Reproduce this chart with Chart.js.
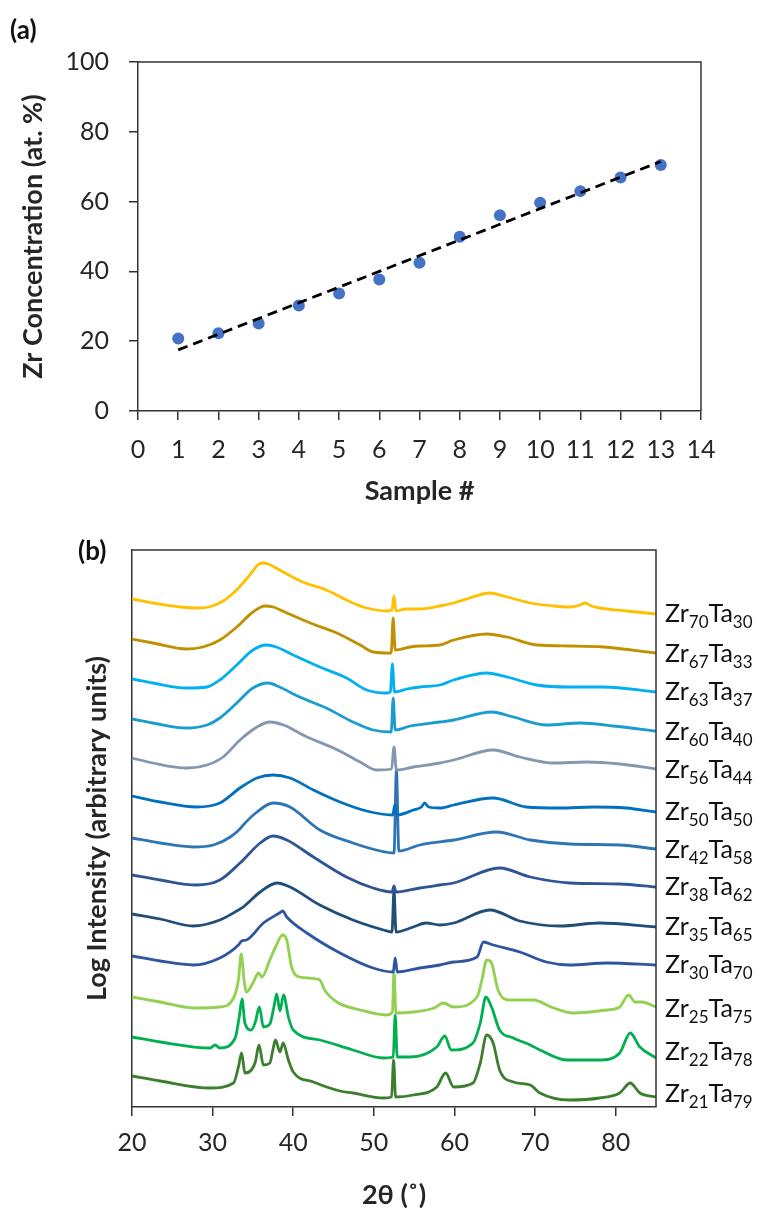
<!DOCTYPE html>
<html>
<head>
<meta charset="utf-8">
<script src="https://cdn.jsdelivr.net/npm/chart.js@4.4.1/dist/chart.umd.min.js"></script>
<style>
  html, body { margin: 0; padding: 0; background: #fff; }
  #wrap { position: relative; width: 764px; height: 1211px; overflow: hidden; background: #fff; }
  .panel { position: absolute; left: 0; width: 764px; }
  #pa { top: 0; height: 525px; }
  #pb { top: 525px; height: 686px; }
  .tag { position: absolute; font: bold 26px Lato, sans-serif; line-height: 1; color: #111; }
</style>
</head>
<body>
<div id="wrap">
  <div class="panel" id="pa"><canvas id="ca"></canvas></div>
  <div class="panel" id="pb"><canvas id="cb"></canvas></div>
  <div class="tag" style="left:10px;top:16px">(a)</div>
  <div class="tag" style="left:78px;top:537px">(b)</div>
</div>
<script>
// ---------- Panel (a) data ----------
const sampleNo = [1, 2, 3, 4, 5, 6, 7, 8, 9, 10, 11, 12, 13];
const zrConc   = [20.8, 22.3, 25.1, 30.2, 33.7, 37.7, 42.5, 49.9, 56.1, 59.7, 63.0, 66.9, 70.5];
const trendX   = [1, 13];
const trendY   = [17.5, 71.5];

// ---------- Panel (b) data: [2θ, log intensity (arb. units, offset)] ----------
const zr70ta30 = [[20,508],[22.6,504],[26,500],[28.4,499],[29.5,500],[30.6,503],[31.5,507],[32.3,512],[33.2,519],[34.2,528],[35.0,536],[35.6,542],[36.1,544],[36.9,543],[38.3,537],[41.2,525],[44.1,517],[47.4,504],[49.1,499],[51.6,496],[52.25,497],[52.5,511],[52.75,496],[54.0,498],[55.7,498],[58.2,501],[59.9,504],[61.9,509],[64.4,514],[66.1,511],[69.4,504],[72.3,501],[74.3,500],[75.6,502],[76.2,504],[77.0,501],[78.0,499],[81.4,496],[85,493]];
const zr67ta33 = [[20,468],[22.6,464],[26.8,458],[28.8,460],[30.9,467],[33.0,480],[35.0,495],[36.5,501],[37.5,500],[39.2,494],[42.1,484],[45.4,474],[48.3,462],[49.9,455],[52.15,454],[52.4,489],[52.65,457],[54.5,460],[55.7,461],[58.2,462],[59.9,467],[64.0,473],[66.5,470],[70.2,462],[74.3,461],[78.5,460],[85,454]];
const zr63ta37 = [[20,428],[22.6,424],[26.8,419],[29.3,420],[30.9,427],[33.0,442],[35.0,457],[36.7,462],[37.9,460],[40.0,452],[43.3,440],[46.6,429],[49.1,417],[51.6,414],[52.05,415],[52.3,443],[52.55,415],[54.1,418],[55.7,420],[58.2,422],[59.9,427],[64.0,434],[66.5,430],[70.2,422],[74.3,420],[78.5,420],[85,415]];
const zr60ta40 = [[20,388],[22.6,384],[26.8,379],[29.3,382],[30.9,389],[33.0,404],[35.0,419],[36.9,424],[38.3,420],[40.8,410],[44.1,399],[47.4,385],[49.9,377],[52.15,375],[52.4,409],[52.65,377],[54.5,381],[58.2,385],[59.9,387],[64.6,395],[67.3,390],[71.4,382],[75.6,384],[79.7,381],[85,376]];
const zr56ta44 = [[20,349],[22.6,344],[26.8,339],[29.3,342],[31.3,350],[33.4,367],[35.5,380],[37.1,385],[38.8,382],[41.7,370],[45.0,359],[48.3,345],[50.3,337],[52.2,338],[52.5,360],[52.8,337],[54.9,340],[58.2,344],[59.9,347],[64.8,357],[68.1,350],[72.3,344],[76.4,345],[80.5,343],[85,338]];
const zr50ta50 = [[20,311],[23.5,305],[28.0,300],[30.9,304],[33.4,319],[35.5,329],[37.5,332],[39.6,329],[42.5,317],[45.8,305],[49.1,296],[52.35,292],[52.6,302],[52.85,292],[54.9,297],[55.9,300],[56.3,304],[56.8,300],[58.2,299],[59.9,302],[64.8,309],[68.9,300],[73.1,299],[77.2,300],[81.3,299],[85,295]];
const zr42ta58 = [[20,269],[23.5,264],[27.6,260],[30.1,262],[32.2,270],[33.5,279],[33.8,282],[35.5,295],[37.5,304],[39.6,300],[43.3,277],[47.4,264],[50.8,256],[52.5,254],[52.8,337],[53.1,256],[55.7,262],[59.9,267],[65.2,275],[69.4,267],[74.3,263],[80.5,262],[85,258]];
const zr38ta62 = [[20,232],[23.5,227],[28.0,222],[30.9,227],[33.4,244],[35.9,264],[37.5,271],[39.2,267],[42.5,250],[46.6,230],[49.9,219],[52.25,215],[52.5,221],[52.75,215],[55.7,219],[58.2,222],[59.9,224],[65.6,239],[69.4,230],[74.3,224],[80.5,223],[85,220]];
const zr35ta65 = [[20,193],[23.5,188],[27.6,181],[30.9,187],[33.2,197],[33.8,200],[35.9,215],[38.0,224],[39.6,220],[43.3,202],[47.4,187],[51.2,177],[52.25,175],[52.5,217],[52.75,175],[54.9,180],[56.5,184],[58.2,182],[59.9,184],[64.4,197],[68.1,186],[73.1,181],[78.0,184],[85,180]];
const zr30ta70 = [[20,151],[23.5,146],[27.6,142],[30.9,149],[33.2,162],[33.6,166],[34.2,167],[36.3,184],[38.3,194],[38.7,196],[39.2,190],[41.7,174],[45.8,154],[49.9,139],[52.4,135],[52.65,149],[52.9,135],[55.7,139],[58.2,142],[59.9,145],[62.8,150],[63.6,165],[64.8,162],[68.1,155],[71.4,145],[74.3,142],[78.9,144],[85,142]];
const zr25ta75 = [[20,110],[23.5,105],[27.6,99],[30.9,100],[32.6,109],[33.2,127],[33.55,153],[33.9,127],[34.2,115],[35.0,124],[35.7,134],[36.1,130],[37.1,147],[37.8,160],[38.7,172],[39.2,167],[39.8,140],[40.8,130],[41.9,129],[43.3,127],[43.9,117],[45.4,105],[48.3,97],[51.6,92],[52.3,95],[52.5,135],[52.75,94],[54.9,95],[57.5,99],[58.6,104],[59.9,100],[62.8,110],[63.4,127],[64.0,147],[64.6,144],[65.4,117],[66.9,107],[69.8,107],[72.3,99],[74.7,94],[78.9,97],[80.5,100],[81.6,112],[82.4,105],[83.2,105],[85,100]];
const zr22ta78 = [[20,70],[23.5,65],[29.7,59],[30.3,62],[30.9,59],[32.8,69],[33.3,90],[33.65,108],[34.0,84],[34.8,77],[35.3,85],[35.8,100],[36.3,80],[37.1,83],[37.6,100],[37.95,113],[38.35,96],[38.8,112],[39.4,90],[40.0,77],[43.3,67],[47.4,57],[51.2,49],[52.4,50],[52.65,92],[52.9,50],[54.5,50],[57.8,60],[58.8,71],[59.6,57],[62.3,64],[63.2,84],[63.9,110],[64.6,100],[65.6,77],[67.3,69],[69.4,62],[70.6,57],[73.9,47],[78.0,47],[80.5,54],[81.8,74],[83.0,60],[85,49]];
const zr21ta79 = [[20,31],[23.5,26],[29.7,19],[32.6,24],[33.2,40],[33.6,54],[34.0,34],[34.8,37],[35.3,45],[35.75,62],[36.3,42],[37.1,44],[37.5,58],[37.8,67],[38.35,55],[38.75,64],[39.4,47],[40.0,35],[42.5,25],[45.8,16],[47.4,14],[51.2,9],[52.2,10],[52.45,47],[52.7,10],[54.9,12],[57.8,20],[58.9,34],[59.9,20],[62.3,24],[63.2,44],[64.0,72],[64.8,64],[65.6,37],[67.3,25],[69.4,22],[70.6,14],[74.3,7],[78.0,9],[80.5,14],[81.8,24],[83.0,14],[85,10]];

const xrdCurves   = [zr70ta30, zr67ta33, zr63ta37, zr60ta40, zr56ta44, zr50ta50, zr42ta58, zr38ta62, zr35ta65, zr30ta70, zr25ta75, zr22ta78, zr21ta79];
const zrContent   = [70, 67, 63, 60, 56, 50, 42, 38, 35, 30, 25, 22, 21];
const taContent   = [30, 33, 37, 40, 44, 50, 58, 62, 65, 70, 75, 78, 79];
const labelLevel  = [494, 454, 416, 376, 338, 296, 258, 221, 181, 143, 99, 56, 14];
const curveColors = ['#FFC000','#BF9000','#00B0F0','#1A9CD0','#8497B0','#0070C0','#2E75B6','#2F5597','#1F4E79','#2F55A0','#92D050','#00B050','#3B7F2E'];
const xTicksB = [20, 30, 40, 50, 60, 70, 80];

// ---------- helpers ----------
const FONT = 'Lato, "Open Sans", sans-serif';
const INK = '#262626';
const AXIS = '#333';

const topRightBox = {
  id: 'topRightBox',
  afterDraw(chart) {
    const { ctx, chartArea: a } = chart;
    ctx.save();
    ctx.strokeStyle = AXIS;
    ctx.lineWidth = 1.5;
    ctx.beginPath();
    ctx.moveTo(a.left, a.top);
    ctx.lineTo(a.right, a.top);
    ctx.lineTo(a.right, a.bottom);
    ctx.stroke();
    ctx.restore();
  }
};

const seriesLabels = {
  id: 'seriesLabels',
  afterDraw(chart) {
    const { ctx, chartArea: a, scales: { y } } = chart;
    ctx.save();
    ctx.fillStyle = '#111';
    ctx.textBaseline = 'alphabetic';
    ctx.textAlign = 'left';
    zrContent.forEach((zr, i) => {
      let x = a.right + 9;
      const base = y.getPixelForValue(labelLevel[i]) + 9;
      const parts = [['Zr', false], [String(zr), true], ['Ta', false], [String(taContent[i]), true]];
      parts.forEach(([t, sub]) => {
        ctx.font = (sub ? '17px ' : '25px ') + FONT;
        ctx.fillText(t, x, sub ? base + 6 : base);
        x += ctx.measureText(t).width;
      });
    });
    ctx.restore();
  }
};

// ---------- Chart (a) ----------
new Chart(document.getElementById('ca'), {
  type: 'scatter',
  data: {
    datasets: [
      {
        label: 'Linear fit',
        type: 'line',
        data: trendX.map((x, i) => ({ x, y: trendY[i] })),
        borderColor: '#000',
        borderWidth: 2.8,
        borderDash: [10, 6],
        pointRadius: 0,
        fill: false,
        order: 1
      },
      {
        label: 'Zr concentration',
        data: sampleNo.map((x, i) => ({ x, y: zrConc[i] })),
        backgroundColor: '#4472C4',
        borderColor: '#4472C4',
        pointRadius: 6,
        pointBorderWidth: 0,
        order: 2
      }
    ]
  },
  options: {
    responsive: true,
    maintainAspectRatio: false,
    animation: false,
    layout: { padding: { top: 62, right: 63, left: 0, bottom: 0 } },
    plugins: { legend: { display: false }, tooltip: { enabled: false } },
    scales: {
      x: {
        type: 'linear', min: 0, max: 14,
        ticks: { stepSize: 1, color: INK, font: { family: FONT, size: 25 }, padding: 15 },
        grid: { drawOnChartArea: false, drawTicks: true, tickLength: 9, color: AXIS, lineWidth: 1.5 },
        border: { display: true, color: AXIS, width: 1.5 },
        title: { display: true, text: 'Sample #', color: INK, font: { family: FONT, size: 27, weight: 'bold' }, padding: { top: 0, bottom: 18 } },
        afterFit(s) { s.height = 114; }
      },
      y: {
        type: 'linear', min: 0, max: 100,
        ticks: { stepSize: 20, color: INK, font: { family: FONT, size: 25 }, padding: 20 },
        grid: { drawOnChartArea: false, drawTicks: true, tickLength: 9, color: AXIS, lineWidth: 1.5 },
        border: { display: true, color: AXIS, width: 1.5 },
        title: { display: true, text: 'Zr Concentration (at. %)', color: INK, font: { family: FONT, size: 27, weight: 'bold' }, padding: { top: 17, bottom: 0 } },
        afterFit(s) { s.width = 138; }
      }
    }
  },
  plugins: [topRightBox]
});

// ---------- Chart (b) ----------
new Chart(document.getElementById('cb'), {
  type: 'scatter',
  data: {
    datasets: xrdCurves.map((pts, i) => ({
      label: 'Zr' + zrContent[i] + 'Ta' + taContent[i],
      data: pts.map(p => ({ x: p[0], y: p[1] })),
      showLine: true,
      borderColor: curveColors[i],
      backgroundColor: curveColors[i],
      borderWidth: 2.8,
      pointRadius: 0,
      cubicInterpolationMode: 'monotone',
      fill: false
    }))
  },
  options: {
    responsive: true,
    maintainAspectRatio: false,
    animation: false,
    layout: { padding: { top: 25, right: 108, left: 0, bottom: 0 } },
    plugins: { legend: { display: false }, tooltip: { enabled: false } },
    scales: {
      x: {
        type: 'linear', min: 20, max: 85,
        afterBuildTicks(s) { s.ticks = xTicksB.map(v => ({ value: v })); },
        ticks: { color: INK, font: { family: FONT, size: 25 }, padding: 12 },
        grid: { drawOnChartArea: false, drawTicks: true, tickLength: 9, color: AXIS, lineWidth: 1.5 },
        border: { display: true, color: AXIS, width: 1.5 },
        title: { display: true, text: '2θ (˚)', color: INK, font: { family: FONT, size: 27, weight: 'bold' }, padding: { top: 0, bottom: 0 } },
        afterFit(s) { s.height = 104; }
      },
      y: {
        type: 'linear', min: 0, max: 557,
        ticks: { display: false },
        grid: { drawOnChartArea: false, drawTicks: false, color: AXIS },
        border: { display: true, color: AXIS, width: 1.5 },
        title: { display: true, text: 'Log Intensity (arbitrary units)', color: INK, font: { family: FONT, size: 27, weight: 'bold' }, padding: { top: 81, bottom: 0 } },
        afterFit(s) { s.width = 132; }
      }
    }
  },
  plugins: [topRightBox, seriesLabels]
});
</script>
</body>
</html>
